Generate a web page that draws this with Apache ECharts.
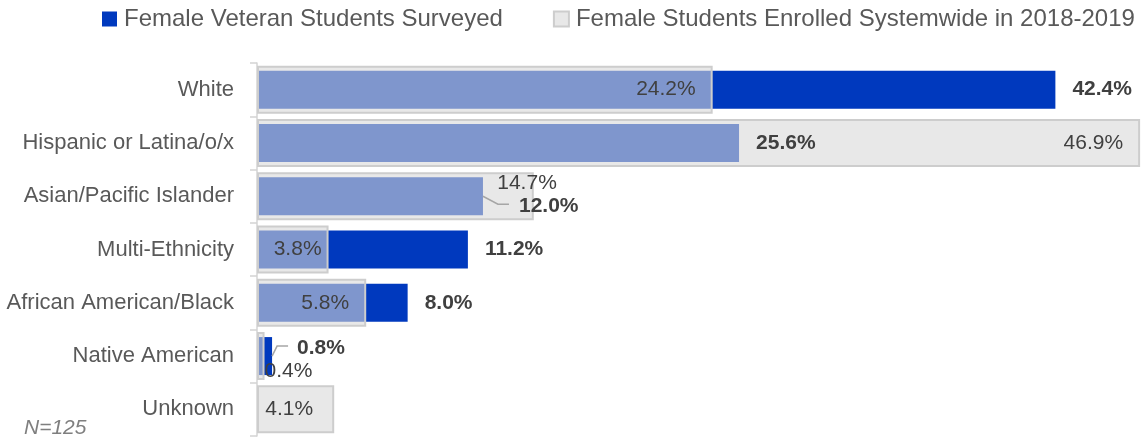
<!DOCTYPE html>
<html>
<head>
<meta charset="utf-8">
<script src="https://cdn.jsdelivr.net/npm/echarts@6/dist/echarts.min.js"></script>
<style>
html,body{margin:0;padding:0;background:#fff;}
#main{width:1142px;height:442px;}
</style>
</head>
<body>
<div id="main"></div>
<script>
const categories = ['White', 'Hispanic or Latina/o/x', 'Asian/Pacific Islander', 'Multi-Ethnicity', 'African American/Black', 'Native American', 'Unknown'];
const surveyed = [42.4, 25.6, 12.0, 11.2, 8.0, 0.8, null];
const systemwide = [24.2, 46.9, 14.7, 3.8, 5.8, 0.4, 4.1];
const seriesNames = ['Female Veteran Students Surveyed', 'Female Students Enrolled Systemwide in 2018-2019'];
const noteText = 'N=125';

const FONT = '"Liberation Sans", Arial, sans-serif';
const BLUE = '#0039be';
const GRAY_FILL = 'rgba(216,216,216,0.59)';
const GRAY_BORDER = '#cdcdcd';
const LABEL_COLOR = '#404040';

// label placement tweaks (styling only, keyed by row index)
const blueLabelTweaks = {2: {offset: [19, 10]}, 5: {offset: [8, -8]}};
const leaderBends = {2: [[15, 8], [26, 8]], 5: [[5, -10], [16, -10]]};

const chart = echarts.init(document.getElementById('main'), null, {renderer: 'canvas'});

const blueLabelData = surveyed.map((v, i) => {
  const d = {value: v};
  if (blueLabelTweaks[i]) d.label = blueLabelTweaks[i];
  return d;
});
const grayData = systemwide.map((v, i) => {
  const d = {value: v};
  if (i === 2) d.label = {position: 'insideRight', distance: 0, offset: [23, -13]};
  if (i === 3) d.label = {distance: 7};
  if (i === 5) d.label = {position: 'right', distance: 0, offset: [0, 15]};
  if (i === 6) d.label = {distance: 21};
  return d;
});
const leaderData = Object.keys(leaderBends).map(k => [surveyed[+k], +k]);

const fmt = p => (p.value == null ? '' : p.value.toFixed(1) + '%');

chart.setOption({
  animation: false,
  textStyle: {fontFamily: FONT},
  legend: {
    left: 102,
    top: 7,
    padding: 0,
    itemWidth: 15,
    itemHeight: 15,
    itemGap: 50,
    textStyle: {fontSize: 24, color: '#595959', fontFamily: FONT, padding: [0, 0, 0, 2]},
    data: [
      {name: seriesNames[0], icon: 'rect'},
      {name: seriesNames[1], icon: 'rect'}
    ]
  },
  grid: {left: 257, top: 63, width: 887, bottom: 6, containLabel: false},
  xAxis: {
    type: 'value', min: 0, max: 47, show: false,
    splitLine: {show: false}
  },
  yAxis: [
    {
      type: 'category', data: categories, inverse: true,
      axisLine: {show: true, lineStyle: {color: '#d4d4d4', width: 1.5}},
      axisTick: {show: true, length: 7, lineStyle: {color: '#d4d4d4', width: 1.5}},
      axisLabel: {fontSize: 22, color: '#595959', margin: 23, fontFamily: FONT}
    },
    {
      type: 'category', data: categories, inverse: true, show: false
    }
  ],
  graphic: [{
    type: 'text', left: 24, top: 418,
    style: {text: noteText, fontSize: 21, fontStyle: 'italic', fill: '#7f7f7f', fontFamily: FONT}
  }],
  series: [
    {
      name: seriesNames[0], type: 'bar', yAxisIndex: 0, barWidth: 38, barGap: '-100%', z: 2,
      itemStyle: {color: BLUE},
      label: {show: false},
      data: surveyed
    },
    {
      name: seriesNames[1], type: 'bar', yAxisIndex: 1, barWidth: 48, z: 3,
      itemStyle: {color: GRAY_FILL, borderColor: GRAY_BORDER, borderWidth: 2},
      label: {show: true, position: 'insideRight', distance: 17, fontSize: 21, color: LABEL_COLOR, fontFamily: FONT, formatter: fmt},
      data: grayData
    },
    {
      name: 'surveyed-labels', type: 'bar', yAxisIndex: 0, barWidth: 38, barGap: '-100%', z: 4,
      silent: true,
      itemStyle: {color: 'rgba(0,0,0,0)'},
      label: {show: true, position: 'right', distance: 17, fontSize: 21, fontWeight: 'bold', color: LABEL_COLOR, fontFamily: FONT, formatter: fmt},
      data: blueLabelData
    },
    {
      name: 'leaders', type: 'custom', yAxisIndex: 0, z: 5, silent: true,
      data: leaderData,
      renderItem: function (params, api) {
        const row = api.value(1);
        const p0 = api.coord([api.value(0), row]);
        const bends = leaderBends[row];
        const pts = [p0].concat(bends.map(b => [p0[0] + b[0], p0[1] + b[1]]));
        return {
          type: 'polyline',
          shape: {points: pts},
          style: {stroke: '#a6a6a6', lineWidth: 1.5, fill: null}
        };
      }
    }
  ]
});
</script>
</body>
</html>
